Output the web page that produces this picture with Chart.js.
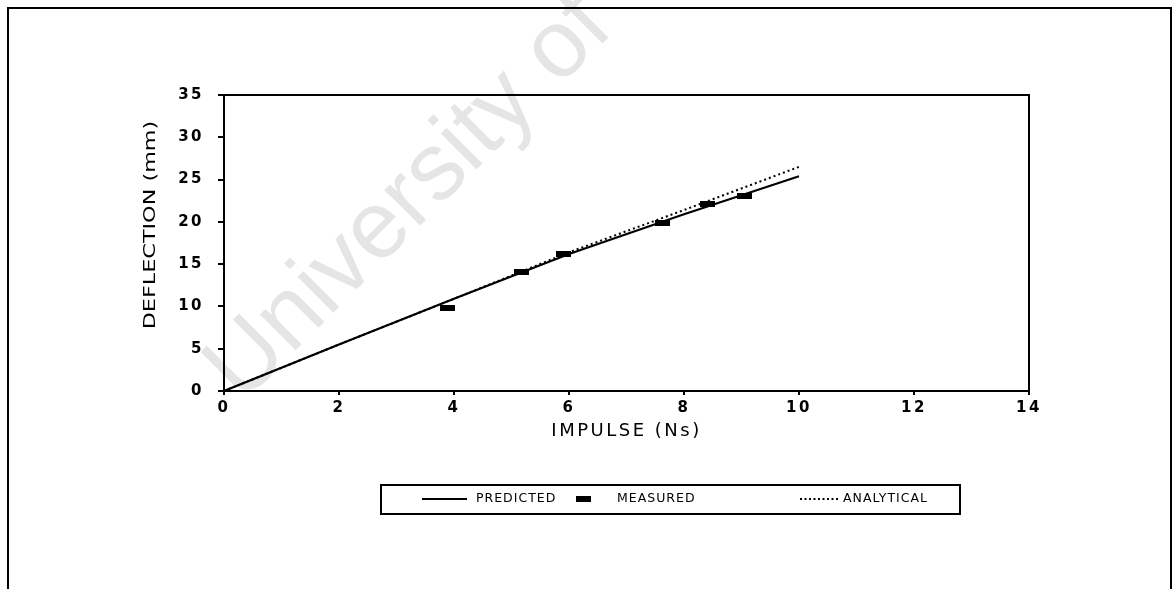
<!DOCTYPE html>
<html>
<head>
<meta charset="utf-8">
<script src="https://cdn.jsdelivr.net/npm/chart.js@4/dist/chart.umd.min.js"></script>
<style>
  html, body { margin: 0; padding: 0; background: #fff; }
  #wrap { width: 1174px; height: 589px; }
</style>
</head>
<body>
<div id="wrap"><canvas id="c" width="1174" height="589"></canvas></div>
<script>
// Deflection vs impulse: predicted, measured and analytical results
const impulsePredicted = [0, 2, 4, 6, 8, 10];
const deflectionPredicted = [0, 5.5, 10.9, 16.2, 20.9, 25.4];
const impulseMeasured = [3.89, 5.17, 5.9, 7.63, 8.4, 9.06];
const deflectionMeasured = [9.8, 14.1, 16.2, 19.9, 22.1, 23.0];
const impulseAnalytical = [0, 2, 4, 6, 8, 10];
const deflectionAnalytical = [0, 5.5, 10.9, 16.4, 21.4, 26.5];
const seriesNames = ['PREDICTED', 'MEASURED', 'ANALYTICAL'];
const xTickValues = [0, 2, 4, 6, 8, 10, 12, 14];
const yTickValues = [0, 5, 10, 15, 20, 25, 30, 35];
const xTitle = 'IMPULSE (Ns)';
const yTitle = 'DEFLECTION (mm)';
const watermarkText = 'University of Cape Town';

const toPoints = (xs, ys) => xs.map((x, i) => ({ x: x, y: ys[i] }));

// small filled bar used as the "measured" marker
const bar = document.createElement('canvas');
bar.width = 15; bar.height = 6;
(function () {
  const b = bar.getContext('2d');
  b.fillStyle = '#000';
  b.fillRect(0, 0, 15, 6);
})();

const paper = {
  id: 'paper',
  beforeDraw(chart) {
    const ctx = chart.ctx;
    ctx.save();
    ctx.fillStyle = '#fff';
    ctx.fillRect(0, 0, chart.width, chart.height);
    // faint diagonal watermark
    ctx.translate(242, 404);
    ctx.rotate(-45 * Math.PI / 180);
    ctx.font = '96px "Liberation Sans", Arial, sans-serif';
    ctx.fillStyle = 'rgba(0,0,0,0.1)';
    ctx.textBaseline = 'alphabetic';
    ctx.fillText(watermarkText, 0, 0);
    ctx.restore();
    // page frame
    ctx.save();
    ctx.strokeStyle = '#000';
    ctx.lineWidth = 2;
    ctx.beginPath();
    ctx.moveTo(8, 589); ctx.lineTo(8, 8); ctx.lineTo(1171, 8); ctx.lineTo(1171, 589);
    ctx.stroke();
    ctx.restore();
    ctx.letterSpacing = '2.5px';
  },
  afterDraw(chart) {
    const ctx = chart.ctx;
    const a = chart.chartArea;
    ctx.save();
    ctx.letterSpacing = '0px';
    ctx.strokeStyle = '#000';
    ctx.lineWidth = 2;
    ctx.strokeRect(a.left, a.top, a.right - a.left, a.bottom - a.top);

    // vertical axis title, tall and narrow
    ctx.save();
    ctx.translate(151, 225);
    ctx.rotate(-Math.PI / 2);
    ctx.scale(1.55, 1);
    ctx.font = '16px "Liberation Sans Narrow", "DejaVu Sans Condensed", "Liberation Sans", sans-serif';
    ctx.fillStyle = '#000';
    ctx.textAlign = 'center';
    ctx.textBaseline = 'middle';
    ctx.fillText(yTitle, 0, 0);
    ctx.restore();

    // legend box
    const ly = 499;
    ctx.lineWidth = 2;
    ctx.strokeRect(381, 485, 579, 29);
    ctx.font = '12.5px "DejaVu Sans", sans-serif';
    ctx.letterSpacing = '1px';
    ctx.fillStyle = '#000';
    ctx.textBaseline = 'middle';
    ctx.textAlign = 'left';
    const ds = chart.data.datasets;
    // predicted
    ctx.setLineDash([]);
    ctx.beginPath(); ctx.moveTo(422, ly); ctx.lineTo(467, ly); ctx.stroke();
    ctx.fillText(ds[0].label, 476, ly);
    // measured
    ctx.drawImage(bar, 576, ly - 3);
    ctx.fillText(ds[1].label, 617, ly);
    // analytical
    ctx.setLineDash([2, 2.5]);
    ctx.beginPath(); ctx.moveTo(800, ly); ctx.lineTo(838, ly); ctx.stroke();
    ctx.setLineDash([]);
    ctx.fillText(ds[2].label, 843, ly);
    ctx.restore();
  }
};

new Chart(document.getElementById('c'), {
  type: 'scatter',
  data: {
    datasets: [
      {
        label: seriesNames[0],
        data: toPoints(impulsePredicted, deflectionPredicted),
        showLine: true,
        borderColor: '#000',
        borderWidth: 2.2,
        pointRadius: 0,
        fill: false,
        order: 1
      },
      {
        label: seriesNames[1],
        data: toPoints(impulseMeasured, deflectionMeasured),
        showLine: false,
        pointStyle: bar,
        pointRadius: 7,
        backgroundColor: '#000',
        borderColor: '#000',
        order: 0
      },
      {
        label: seriesNames[2],
        data: toPoints(impulseAnalytical, deflectionAnalytical),
        showLine: true,
        borderColor: '#000',
        borderWidth: 2,
        borderDash: [2, 3],
        pointRadius: 0,
        fill: false,
        order: 2
      }
    ]
  },
  options: {
    responsive: false,
    animation: false,
    events: [],
    layout: { padding: { left: 164, right: 145, top: 95, bottom: 147 } },
    plugins: { legend: { display: false }, tooltip: { enabled: false } },
    scales: {
      x: {
        type: 'linear',
        min: 0, max: 14,
        afterBuildTicks: s => { s.ticks = xTickValues.map(v => ({ value: v })); },
        afterFit: s => { s.height = 51; },
        grid: { display: true, drawOnChartArea: false, drawTicks: true, tickLength: 4, color: '#000', lineWidth: 2 },
        border: { display: true, color: '#000', width: 2 },
        ticks: { color: '#000', font: { family: '"DejaVu Sans", sans-serif', size: 15, weight: 'bold' }, padding: 4, maxRotation: 0, autoSkip: false },
        title: { display: true, text: xTitle, color: '#000', font: { family: '"DejaVu Sans", sans-serif', size: 18 }, padding: { top: 0, bottom: 0 } }
      },
      y: {
        type: 'linear',
        min: 0, max: 35,
        afterBuildTicks: s => { s.ticks = yTickValues.map(v => ({ value: v })); },
        afterFit: s => { s.width = 60; },
        grid: { display: true, drawOnChartArea: false, drawTicks: true, tickLength: 6, color: '#000', lineWidth: 2 },
        border: { display: true, color: '#000', width: 2 },
        ticks: { color: '#000', font: { family: '"DejaVu Sans", sans-serif', size: 15, weight: 'bold' }, padding: 14, autoSkip: false }
      }
    }
  },
  plugins: [paper]
});
</script>
</body>
</html>
